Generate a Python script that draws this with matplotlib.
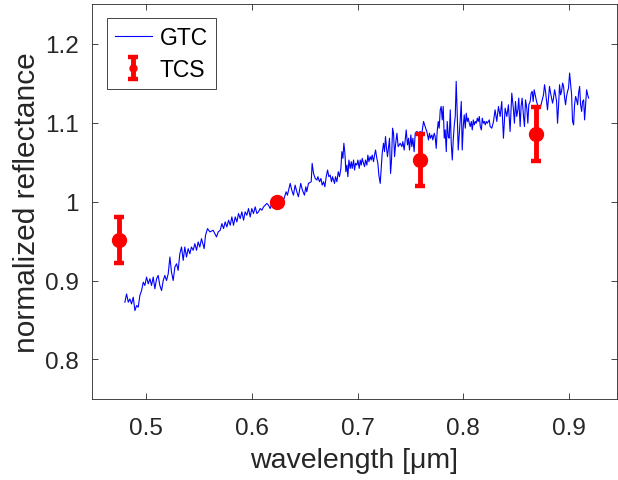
import matplotlib
matplotlib.use('Agg')
import matplotlib.pyplot as plt

plt.rcParams['font.family'] = ['Liberation Sans', 'DejaVu Sans']

# GTC spectrum
gtc_wl = [0.4798, 0.4814, 0.4830, 0.4845, 0.4861, 0.4877, 0.4893, 0.4909, 0.4924, 0.4940,
          0.4956, 0.4972, 0.4987, 0.5003, 0.5019, 0.5035, 0.5050, 0.5066, 0.5082, 0.5098,
          0.5113, 0.5129, 0.5145, 0.5161, 0.5176, 0.5192, 0.5208, 0.5224, 0.5239, 0.5255,
          0.5271, 0.5287, 0.5302, 0.5318, 0.5334, 0.5350, 0.5365, 0.5381, 0.5397, 0.5413,
          0.5428, 0.5444, 0.5460, 0.5476, 0.5491, 0.5507, 0.5523, 0.5548, 0.5561, 0.5580,
          0.5602, 0.5633, 0.5665, 0.5681,
          0.5700, 0.5716, 0.5732, 0.5747, 0.5763, 0.5779, 0.5795, 0.5810, 0.5826, 0.5842,
          0.5858, 0.5873, 0.5889, 0.5905, 0.5921, 0.5936, 0.5952, 0.5968, 0.5984, 0.5999,
          0.6015, 0.6031, 0.6047, 0.6062, 0.6078, 0.6094, 0.6110, 0.6125, 0.6141, 0.6157,
          0.6173, 0.6188, 0.6220, 0.6251, 0.6283, 0.6299, 0.6324, 0.6336, 0.6362, 0.6377,
          0.6393, 0.6409, 0.6425, 0.6440, 0.6462, 0.6478, 0.6497, 0.6510, 0.6519, 0.6535,
          0.6561, 0.6570, 0.6583, 0.6599, 0.6615, 0.6624, 0.6640, 0.6653, 0.6665, 0.6678,
          0.6690, 0.6703, 0.6716, 0.6728, 0.6741, 0.6753, 0.6763, 0.6772, 0.6782, 0.6791,
          0.6804, 0.6817, 0.6829, 0.6842, 0.6851, 0.6861, 0.6870, 0.6880, 0.6889, 0.6899,
          0.6908, 0.6918, 0.6930, 0.6940, 0.6949, 0.6962, 0.6971, 0.6981, 0.6993, 0.7003,
          0.7015, 0.7025, 0.7034, 0.7044, 0.7056, 0.7066, 0.7075, 0.7088, 0.7097, 0.7107,
          0.7119, 0.7129, 0.7138, 0.7151, 0.7160, 0.7170, 0.7182, 0.7192, 0.7201, 0.7214,
          0.7223, 0.7233, 0.7245, 0.7255, 0.7264, 0.7274, 0.7283, 0.7293, 0.7302, 0.7312,
          0.7321, 0.7331, 0.7340, 0.7350, 0.7359, 0.7372, 0.7384, 0.7394,
          0.7403, 0.7419, 0.7428, 0.7441, 0.7450, 0.7460, 0.7472, 0.7482, 0.7491, 0.7504,
          0.7513, 0.7523, 0.7535, 0.7545, 0.7561, 0.7576, 0.7592, 0.7608, 0.7624, 0.7639,
          0.7655, 0.7671, 0.7680, 0.7690, 0.7703, 0.7712, 0.7725, 0.7734, 0.7744, 0.7753,
          0.7763, 0.7772, 0.7782, 0.7791, 0.7801, 0.7810, 0.7820, 0.7829, 0.7839, 0.7848,
          0.7858, 0.7867, 0.7877, 0.7886, 0.7896, 0.7905, 0.7915, 0.7924, 0.7933, 0.7943,
          0.7952, 0.7962, 0.7971, 0.7981, 0.7990, 0.8000, 0.8009, 0.8019, 0.8028, 0.8038,
          0.8047, 0.8057, 0.8066, 0.8076, 0.8085, 0.8095, 0.8104, 0.8114, 0.8123, 0.8133,
          0.8142, 0.8152, 0.8161, 0.8171, 0.8180, 0.8190, 0.8199, 0.8208, 0.8218, 0.8227,
          0.8237, 0.8246,
          0.8254, 0.8270, 0.8286, 0.8301, 0.8317, 0.8333, 0.8349, 0.8364, 0.8380, 0.8396,
          0.8412, 0.8427, 0.8443, 0.8459, 0.8475, 0.8484, 0.8494, 0.8506, 0.8516, 0.8525,
          0.8538, 0.8547, 0.8557, 0.8570, 0.8579, 0.8589, 0.8601, 0.8611, 0.8620, 0.8633,
          0.8642, 0.8652, 0.8661, 0.8671, 0.8680, 0.8690, 0.8702, 0.8712, 0.8728, 0.8743,
          0.8759, 0.8769, 0.8778, 0.8788, 0.8797, 0.8807, 0.8816, 0.8826, 0.8835, 0.8845,
          0.8854, 0.8864, 0.8873, 0.8883, 0.8892, 0.8902, 0.8911, 0.8921, 0.8930, 0.8940,
          0.8949, 0.8959, 0.8968, 0.8977, 0.8987, 0.8996, 0.9006, 0.9015, 0.9025, 0.9034,
          0.9044, 0.9053, 0.9063, 0.9072, 0.9082, 0.9091, 0.9101, 0.9110, 0.9120, 0.9129,
          0.9139, 0.9148, 0.9158, 0.9167, 0.9177, 0.9186]
gtc_refl = [0.8725, 0.8830, 0.8725, 0.8767, 0.8704, 0.8789, 0.8619, 0.8683, 0.8662, 0.8810,
            0.8873, 0.8979, 0.8937, 0.9043, 0.8958, 0.9022, 0.8937, 0.9043, 0.8895, 0.9022,
            0.9064, 0.8937, 0.8873, 0.9000, 0.9064, 0.9000, 0.9085, 0.9297, 0.9107, 0.9000,
            0.9170, 0.9212, 0.9128, 0.9339, 0.9424, 0.9255, 0.9424, 0.9297, 0.9403, 0.9339,
            0.9424, 0.9382, 0.9466, 0.9382, 0.9488, 0.9424, 0.9530, 0.9403, 0.9572, 0.9657,
            0.9615, 0.9636, 0.9551, 0.9615,
            0.9636, 0.9720, 0.9657, 0.9742, 0.9678, 0.9763, 0.9699, 0.9805, 0.9699, 0.9805,
            0.9742, 0.9848, 0.9784, 0.9869, 0.9763, 0.9869, 0.9826, 0.9911, 0.9805, 0.9911,
            0.9848, 0.9932, 0.9848, 0.9869, 0.9911, 0.9890, 0.9932, 0.9953, 0.9975, 0.9953,
            0.9911, 0.9975, 0.9996, 1.0017, 1.0030, 1.0017, 1.0123, 1.0080, 1.0229, 1.0144,
            1.0080, 1.0207, 1.0123, 1.0060, 1.0229, 1.0144, 1.0080, 1.0186, 1.0123, 1.0229,
            1.0250, 1.0483, 1.0356, 1.0292, 1.0271, 1.0314, 1.0250, 1.0292, 1.0207, 1.0250,
            1.0186, 1.0314, 1.0398, 1.0314, 1.0334, 1.0250, 1.0314, 1.0271, 1.0229, 1.0314,
            1.0250, 1.0377, 1.0314, 1.0419, 1.0631, 1.0546, 1.0737, 1.0610, 1.0377, 1.0461,
            1.0314, 1.0525, 1.0419, 1.0504, 1.0419, 1.0525, 1.0398, 1.0483, 1.0461, 1.0525,
            1.0419, 1.0525, 1.0461, 1.0546, 1.0483, 1.0441, 1.0525, 1.0461, 1.0588, 1.0504,
            1.0568, 1.0525, 1.0588, 1.0504, 1.0588, 1.0652, 1.0546, 1.0483, 1.0334, 1.0229,
            1.0419, 1.0610, 1.0737, 1.0631, 1.0822, 1.0673, 1.0568, 1.0695, 1.0801, 1.0356,
            1.0525, 1.0928, 1.0864, 1.0568, 1.0716, 1.0864, 1.0695, 1.0716,
            1.0737, 1.0695, 1.0758, 1.0652, 1.0779, 1.0906, 1.0716, 1.0801, 1.0652, 1.0843,
            1.0695, 1.0801, 1.0631, 1.0864, 1.0886, 1.0864, 1.0886, 1.0864, 1.1013, 1.0949,
            1.0886, 1.0779, 1.0864, 1.0801, 1.0843, 1.0779, 1.0864, 1.0822, 1.0673, 1.0886,
            1.1013, 1.0928, 1.1160, 1.1203, 1.1033, 1.1203, 1.0801, 1.0906, 1.0631, 1.1013,
            1.0822, 1.0801, 1.1160, 1.0737, 1.0525, 1.0779, 1.0970, 1.1076, 1.1521, 1.1097,
            1.0652, 1.0843, 1.1033, 1.1266, 1.0652, 1.0949, 1.1097, 1.0928, 1.1118, 1.1013,
            1.1055, 1.0991, 1.0949, 1.1013, 1.0906, 1.1033, 1.0970, 1.1013, 1.0991, 1.1055,
            1.1013, 1.1076, 1.0949, 1.0906, 1.1055, 1.0991, 1.1013, 1.0970, 1.1013, 1.0991,
            1.1013, 1.1033,
            1.0949, 1.0928, 1.1013, 1.1160, 1.1013, 1.1203, 1.1076, 1.1266, 1.0801, 1.1182,
            1.1076, 1.1224, 1.0886, 1.1372, 1.1160, 1.0991, 1.1266, 1.1076, 1.1160, 1.1309,
            1.0949, 1.1203, 1.1309, 1.1076, 1.0949, 1.1287, 1.1182, 1.0991, 1.1224, 1.1266,
            1.1372, 1.1394, 1.1266, 1.1414, 1.1351, 1.1287, 1.1224, 1.1182, 1.1182, 1.1266,
            1.1351, 1.1478, 1.1394, 1.1266, 1.1160, 1.1309, 1.1457, 1.1372, 1.1309, 1.1245,
            1.1309, 1.1414, 1.1351, 1.1266, 1.0991, 1.1224, 1.1478, 1.1351, 1.1394, 1.1499,
            1.1457, 1.1309, 1.1224, 1.1330, 1.1394, 1.1436, 1.1626, 1.1499, 1.1351, 1.1013,
            1.0970, 1.1224, 1.1330, 1.1287, 1.1224, 1.1372, 1.1457, 1.1224, 1.1140, 1.1266,
            1.1287, 1.1033, 1.1224, 1.1414, 1.1351, 1.1309]

# TCS photometry
tcs_wl = [0.474, 0.624, 0.759, 0.869]
tcs_refl = [0.951, 1.000, 1.052, 1.0855]
tcs_err = [0.029, 0.002, 0.033, 0.0345]

fig = plt.figure(figsize=(6.18, 4.81), dpi=100)
ax = fig.add_axes([0.1494, 0.1684, 0.8482, 0.8212])

ax.plot(gtc_wl, gtc_refl, color=(0, 0, 1), lw=0.8, label='GTC')
eb = ax.errorbar(tcs_wl, tcs_refl, yerr=tcs_err, fmt='o', color='red', ms=10, mfc='red',
                 mec='red', elinewidth=3.5, capsize=3.6, capthick=3.2, label='TCS')

ax.set_xlim(0.449, 0.945)
ax.set_ylim(0.75, 1.25)
ax.set_xticks([0.5, 0.6, 0.7, 0.8, 0.9])
ax.set_xticklabels(['0.5', '0.6', '0.7', '0.8', '0.9'])
ax.set_yticks([0.8, 0.9, 1.0, 1.1, 1.2])
ax.set_yticklabels(['0.8', '0.9', '1', '1.1', '1.2'])

dark = (0.15, 0.15, 0.15)
for s in ax.spines.values():
    s.set_color(dark)
    s.set_linewidth(0.6)
ax.tick_params(direction='in', top=True, right=True, length=4, width=0.6,
               colors=dark, labelsize=17.5)
ax.tick_params(axis='x', pad=13)
ax.tick_params(axis='y', pad=10)
ax.set_xlabel('wavelength [μm]', fontsize=20.5, color=dark, va='center')
ax.set_ylabel('normalized reflectance', fontsize=21.5, color=dark, va='center')
ax.xaxis.set_label_coords(0.5, -0.155)
ax.yaxis.set_label_coords(-0.124, 0.5)

leg = ax.legend(loc='upper left', bbox_to_anchor=(0.028, 0.965), borderaxespad=0,
                fontsize=16.5, frameon=True, fancybox=False, edgecolor=dark,
                framealpha=1, handlelength=1.6, handletextpad=0.35,
                borderpad=0.35, labelspacing=0.4, markerscale=0.5)
leg.get_frame().set_linewidth(0.6)

fig.savefig('out.png', dpi=100)
